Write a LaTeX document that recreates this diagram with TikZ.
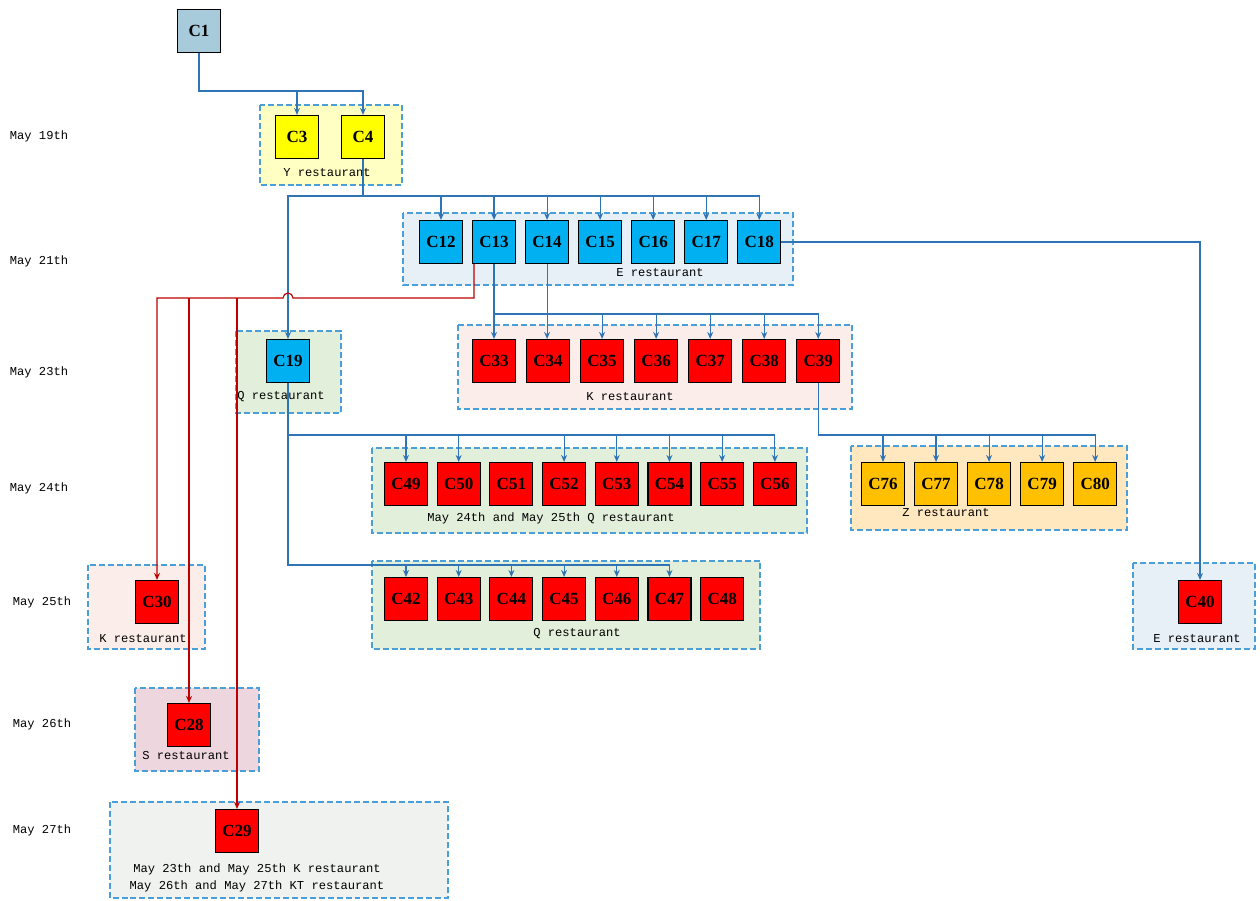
\documentclass[tikz,border=0pt]{standalone}
\usepackage{fontspec}
\setmainfont{Liberation Serif}
\newfontfamily\labfont{Liberation Mono}
\usepackage{tikz}
\usetikzlibrary{arrows.meta}
\usetikzlibrary{calc}
\usetikzlibrary{positioning}

\definecolor{boxC1}{HTML}{A8CBDC}
\definecolor{boxY}{HTML}{FFFF00}
\definecolor{boxE}{HTML}{00B0F0}
\definecolor{boxR}{HTML}{FF0000}
\definecolor{boxZ}{HTML}{FFC000}
\definecolor{grpY}{HTML}{FFFFC4}
\definecolor{grpE}{HTML}{E7F0F7}
\definecolor{grpQ}{HTML}{E2EFDA}
\definecolor{grpK}{HTML}{FBEDE9}
\definecolor{grpZ}{HTML}{FFE7BF}
\definecolor{grpS}{HTML}{EDD6DE}
\definecolor{grpG}{HTML}{F0F2F0}
\definecolor{dashcol}{HTML}{4A9FD8}
\definecolor{linkblue}{HTML}{2F75B5}
\definecolor{linkred}{HTML}{C00000}

\begin{document}
\begin{tikzpicture}
  [
    x = 0.02cm, y = -0.02cm,
    node distance = 0.18cm and 0.18cm,
    box/.style = {draw, line width = 0.6pt, minimum size = 0.86cm, inner sep = 0pt,
                  font = \fontsize{9.7}{11}\selectfont\bfseries},
    grp/.style = {draw = dashcol, line width = 0.7pt, dash pattern = on 3.4pt off 1.7pt},
    lab/.style = {inner sep = 0pt, font = \labfont\fontsize{6.9}{9.6}\selectfont},
    link/.style = {draw = linkblue, line width = 0.65pt, -{Stealth[length = 4pt, width = 3.4pt]}},
    redlink/.style = {link, draw = linkred},
  ]

  \useasboundingbox (0,0) rectangle (1260,900);

  % restaurant groups
  \draw[grp, fill = grpY] (260,105) rectangle (402,185);
  \node[lab] (labY) at (327,173) {Y restaurant};
  \draw[grp, fill = grpE] (403,213) rectangle (793,285);
  \node[lab] (labE) at (660,273) {E restaurant};
  \draw[grp, fill = grpQ] (236,331) rectangle (341,413);
  \node[lab] (labQa) at (281,397) {Q restaurant};
  \draw[grp, fill = grpK] (458,325) rectangle (852,409);
  \node[lab] (labKa) at (630,397) {K restaurant};
  \draw[grp, fill = grpQ] (372,448) rectangle (807,533);
  \node[lab] (labQb) at (551,518) {May 24th and May 25th Q restaurant};
  \draw[grp, fill = grpZ] (851,446) rectangle (1127,530);
  \node[lab] (labZ) at (946,513) {Z restaurant};
  \draw[grp, fill = grpK] (88,565) rectangle (205,649);
  \node[lab] (labKb) at (143,639) {K restaurant};
  \draw[grp, fill = grpQ] (372,561) rectangle (760,649);
  \node[lab] (labQc) at (577,634) {Q restaurant};
  \draw[grp, fill = grpE] (1133,563) rectangle (1255,649);
  \node[lab] (labEb) at (1197,639) {E restaurant};
  \draw[grp, fill = grpS] (135,688) rectangle (259,771);
  \node[lab] (labS) at (186,755) {S restaurant};
  \draw[grp, fill = grpG] (110,802) rectangle (448,898);
  \node[lab, align = center] (labKT) at (257,878)
    {May 23th and May 25th K restaurant\\May 26th and May 27th KT restaurant};

  % dates
  \node[lab] (d19) at (39,136) {May 19th};
  \node[lab] (d21) at (39,261) {May 21th};
  \node[lab] (d23) at (39,372) {May 23th};
  \node[lab] (d24) at (39,488) {May 24th};
  \node[lab] (d25) at (42,602) {May 25th};
  \node[lab] (d26) at (42,724) {May 26th};
  \node[lab] (d27) at (42,830) {May 27th};

  % customers
  \node[box, fill = boxC1] (C1) at (199,31) {C1};
  \node[box, fill = boxY] (C3) at (297,137) {C3};
  \node[box, fill = boxY] (C4) at (363,137) {C4};

  \node[box, fill = boxE] (C12) at (441,242) {C12};
  \node[box, fill = boxE] [right = of C12] (C13) {C13};
  \node[box, fill = boxE] [right = of C13] (C14) {C14};
  \node[box, fill = boxE] [right = of C14] (C15) {C15};
  \node[box, fill = boxE] [right = of C15] (C16) {C16};
  \node[box, fill = boxE] [right = of C16] (C17) {C17};
  \node[box, fill = boxE] [right = of C17] (C18) {C18};

  \node[box, fill = boxE] (C19) at (288,361) {C19};
  \node[box, fill = boxR] (C33) at (494,361) {C33};
  \node[box, fill = boxR] [right = 0.2cm of C33] (C34) {C34};
  \node[box, fill = boxR] [right = 0.2cm of C34] (C35) {C35};
  \node[box, fill = boxR] [right = 0.2cm of C35] (C36) {C36};
  \node[box, fill = boxR] [right = 0.2cm of C36] (C37) {C37};
  \node[box, fill = boxR] [right = 0.2cm of C37] (C38) {C38};
  \node[box, fill = boxR] [right = 0.2cm of C38] (C39) {C39};

  \node[box, fill = boxR] (C49) at (406,484) {C49};
  \node[box, fill = boxR] [right = 0.173cm of C49] (C50) {C50};
  \node[box, fill = boxR] [right = 0.173cm of C50] (C51) {C51};
  \node[box, fill = boxR] [right = 0.173cm of C51] (C52) {C52};
  \node[box, fill = boxR] [right = 0.173cm of C52] (C53) {C53};
  \node[box, fill = boxR] [right = 0.173cm of C53] (C54) {C54};
  \node[box, fill = boxR] [right = 0.173cm of C54] (C55) {C55};
  \node[box, fill = boxR] [right = 0.173cm of C55] (C56) {C56};

  \node[box, fill = boxZ] (C76) at (883,484) {C76};
  \node[box, fill = boxZ] [right = of C76] (C77) {C77};
  \node[box, fill = boxZ] [right = of C77] (C78) {C78};
  \node[box, fill = boxZ] [right = of C78] (C79) {C79};
  \node[box, fill = boxZ] [right = of C79] (C80) {C80};

  \node[box, fill = boxR] (C30) at (157,602) {C30};
  \node[box, fill = boxR] (C42) at (406,599) {C42};
  \node[box, fill = boxR] [right = 0.173cm of C42] (C43) {C43};
  \node[box, fill = boxR] [right = 0.173cm of C43] (C44) {C44};
  \node[box, fill = boxR] [right = 0.173cm of C44] (C45) {C45};
  \node[box, fill = boxR] [right = 0.173cm of C45] (C46) {C46};
  \node[box, fill = boxR] [right = 0.173cm of C46] (C47) {C47};
  \node[box, fill = boxR] [right = 0.173cm of C47] (C48) {C48};
  \node[box, fill = boxR] (C40) at (1200,602) {C40};

  \node[box, fill = boxR] (C28) at (189,725) {C28};
  \node[box, fill = boxR] (C29) at (237,831) {C29};

  % blue links
  \coordinate (b1) at (199,91);
  \draw[link] (C1.south) -- (b1) -| (C3.north);
  \draw[link] (b1) -| (C4.north);

  \coordinate (b4) at (363,196);
  \draw[link] (C4.south) -- (b4) -| (C19.north);
  \foreach \n in {12,...,18}
    \draw[link] (b4) -| (C\n.north);

  \coordinate (ylow) at (0,314);
  \coordinate (b13) at (C13.south |- ylow);
  \draw[link] (C13.south) -- (b13) -| (C33.north);
  \foreach \n in {35,...,39}
    \draw[link] (b13) -| (C\n.north);
  \draw[link] (C14.south) -- (C14.south |- C34.north);

  \coordinate (ymid) at (0,435);
  \coordinate (b19) at (C19.south |- ymid);
  \coordinate (b19b) at (288,565);
  \draw[link] (C19.south) -- (b19b) -| (C42.north);
  \foreach \n in {43,...,47}
    \draw[link] (b19b) -| (C\n.north);
  \foreach \n in {49,50,52,53,54,55,56}
    \draw[link] (b19) -| (C\n.north);

  \coordinate (b39) at (C39.south |- ymid);
  \draw[link] (C39.south) -- (b39) -| (C76.north);
  \foreach \n in {77,...,80}
    \draw[link] (b39) -| (C\n.north);

  \draw[link] (C18.east) -| (C40.north);

  % red links
  \coordinate (redy) at (0,298);
  \coordinate (r0) at ([xshift = 0.04cm]C13.south west);
  \draw[redlink] (r0) |- ([xshift = 0.1cm]C19.north |- redy)
    arc[start angle = 0, end angle = 180, radius = 0.1cm] -| (C30.north);
  \draw[redlink] (C28.north |- redy) -- (C28.north);
  \draw[redlink] (C29.north |- redy) -- (C29.north);

\end{tikzpicture}
\end{document}
